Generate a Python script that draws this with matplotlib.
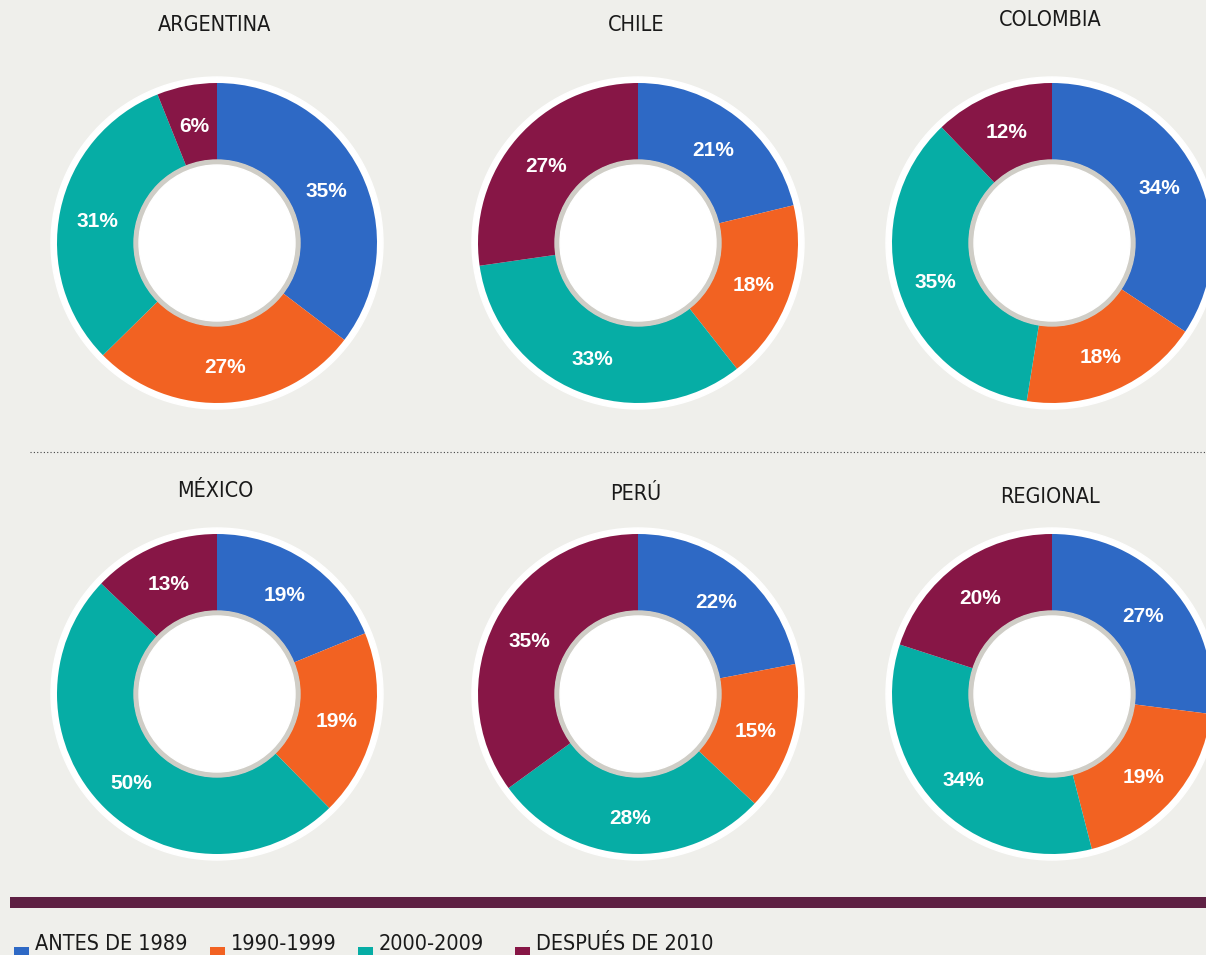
import matplotlib.pyplot as plt
from matplotlib.patches import Circle, Rectangle
from matplotlib import font_manager
import numpy as np

countries = ['ARGENTINA', 'CHILE', 'COLOMBIA', 'MÉXICO', 'PERÚ', 'REGIONAL']
periods = ['ANTES DE 1989', '1990-1999', '2000-2009', 'DESPUÉS DE 2010']
antes_1989 = [35, 21, 34, 19, 22, 27]
p1990_1999 = [27, 18, 18, 19, 15, 19]
p2000_2009 = [31, 33, 35, 50, 28, 34]
despues_2010 = [6, 27, 12, 13, 35, 20]
colors = ['#2e69c5', '#f26222', '#06ada5', '#871646']

W, H = 1206, 955
# layout (pixel positions, y from top)
centers = [(217, 243), (638, 243), (1052, 243), (217, 694), (638, 694), (1052, 694)]
title_y = [25, 25, 20, 491, 494, 497]
legend_sq_x = [14, 210, 358, 515]

# DIN-like condensed look: use a condensed face if one is installed
has_cond = any('Condensed' in f.fname and 'DejaVuSans' in f.fname and 'Bold' not in f.fname
               and 'Oblique' not in f.fname for f in font_manager.fontManager.ttflist)
if has_cond:
    title_kw = dict(family='DejaVu Sans', stretch='condensed', fontsize=15.5)
else:
    title_kw = dict(family='Liberation Sans', fontsize=14)

fig = plt.figure(figsize=(W / 100, H / 100), dpi=100)
fig.patch.set_facecolor('#efefeb')
ax = fig.add_axes([0, 0, 1, 1])
ax.set_facecolor('#efefeb')

r_out, r_in = 160, 83
for i, name in enumerate(countries):
    cx, cy = centers[i]
    cy = H - cy
    vals = [antes_1989[i], p1990_1999[i], p2000_2009[i], despues_2010[i]]
    ax.add_patch(Circle((cx, cy), 166, color='white', zorder=1))
    wedges, _ = ax.pie(vals, colors=colors, startangle=90, counterclock=False,
                       radius=r_out, center=(cx, cy),
                       wedgeprops=dict(width=r_out - r_in, linewidth=0))
    for w in wedges:
        w.set_zorder(2)
    ax.add_patch(Circle((cx, cy), r_in, color='#cfcdc6', zorder=3))
    ax.add_patch(Circle((cx, cy), 78, color='white', zorder=4))
    for w, v in zip(wedges, vals):
        a = np.deg2rad((w.theta1 + w.theta2) / 2)
        ax.text(cx + 122 * np.cos(a), cy + 122 * np.sin(a) - 3, f'{v}%',
                ha='center', va='center', color='white', fontsize=15,
                fontweight='bold', family='Liberation Sans', zorder=5)
    ax.text(cx - 2, H - title_y[i], name, ha='center', va='center',
            color='#1a1a1a', **title_kw)

# separator and bar
ax.plot([30, W], [H - 452, H - 452], ls=(0, (1, 2)), color='#444444', lw=0.8)
ax.add_patch(Rectangle((10, H - 908), W - 10, 11, color='#5e2043', lw=0))

# legend
for x, lab, c in zip(legend_sq_x, periods, colors):
    ax.add_patch(Rectangle((x, H - 962), 15, 15, color=c, lw=0))
    ax.text(x + 21, 1, lab, ha='left', va='bottom',
            color='#1a1a1a', **title_kw)

ax.set_xlim(0, W)
ax.set_ylim(0, H)
ax.set_aspect('auto')
ax.axis('off')
fig.savefig('out.png', dpi=100, facecolor=fig.get_facecolor())
